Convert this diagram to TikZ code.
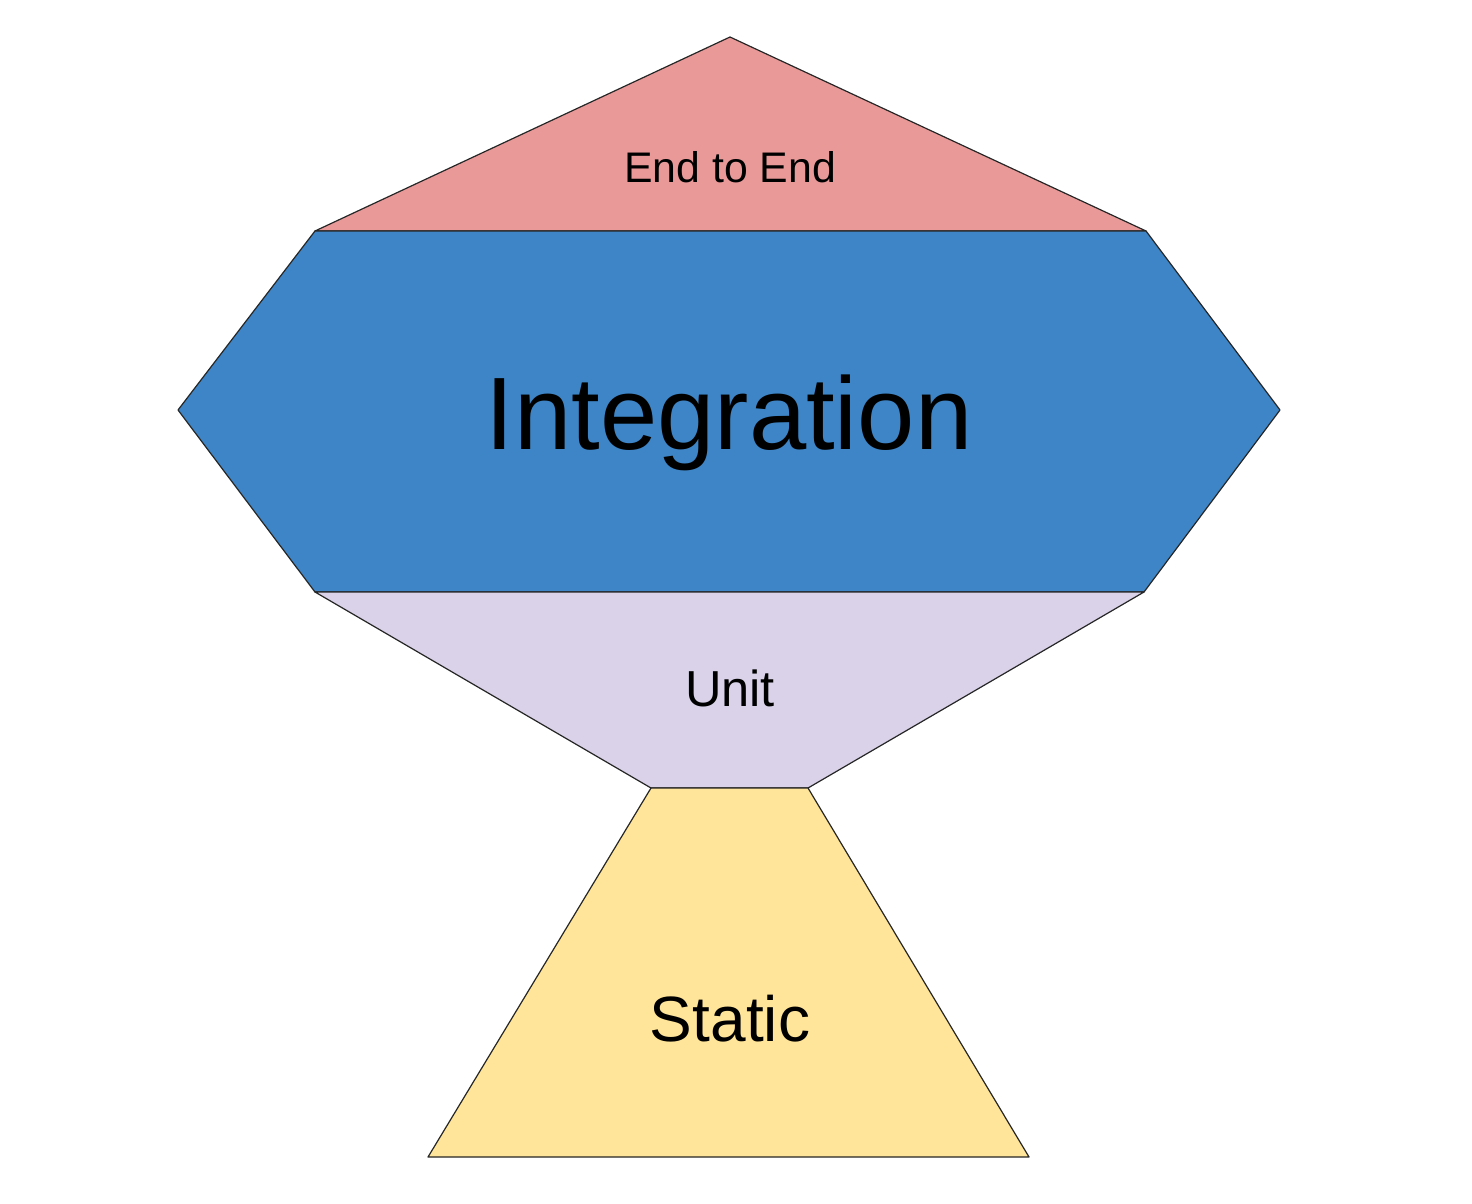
\documentclass[tikz,border=0pt]{standalone}
\usepackage{fontspec}
\setmainfont{Liberation Sans}
\definecolor{pinkfill}{HTML}{EA9999}
\definecolor{bluefill}{HTML}{3D85C6}
\definecolor{lavfill}{HTML}{D9D2E9}
\definecolor{yelfill}{HTML}{FFE599}
\begin{document}
\begin{tikzpicture}[x=0.5pt,y=-0.5pt,
  band/.style={draw=black!85, line width=0.6pt, line join=round},
  lbl/.style={inner sep=0pt, text=black}]
\useasboundingbox (0,0) rectangle (1472,1204);
\coordinate (apex) at (730,37);
\coordinate (tl) at (315,231);
\coordinate (tr) at (1146,231);
\coordinate (ml) at (178,410);
\coordinate (mr) at (1280,410);
\coordinate (bl) at (315,592);
\coordinate (br) at (1144,592);
\coordinate (nl) at (651,788);
\coordinate (nr) at (808,788);
\coordinate (sl) at (428,1157);
\coordinate (sr) at (1029,1157);
\path[band, fill=pinkfill] (apex) -- (tr) -- (tl) -- cycle;
\path[band, fill=bluefill] (tl) -- (tr) -- (mr) -- (br) -- (bl) -- (ml) -- cycle;
\path[band, fill=lavfill] (bl) -- (br) -- (nr) -- (nl) -- cycle;
\path[band, fill=yelfill] (nl) -- (nr) -- (sr) -- (sl) -- cycle;
\node[lbl, font=\fontsize{21.4}{24}\selectfont] (e2e) at (730,167) {End to End};
\node[lbl, font=\fontsize{51.5}{58}\selectfont] (integ) at (729,423) {Integration};
\node[lbl, font=\fontsize{25.3}{29}\selectfont] (unit) at (730,688) {Unit};
\node[lbl, font=\fontsize{32}{36}\selectfont] (static) at (730,1019) {Static};
\end{tikzpicture}
\end{document}
